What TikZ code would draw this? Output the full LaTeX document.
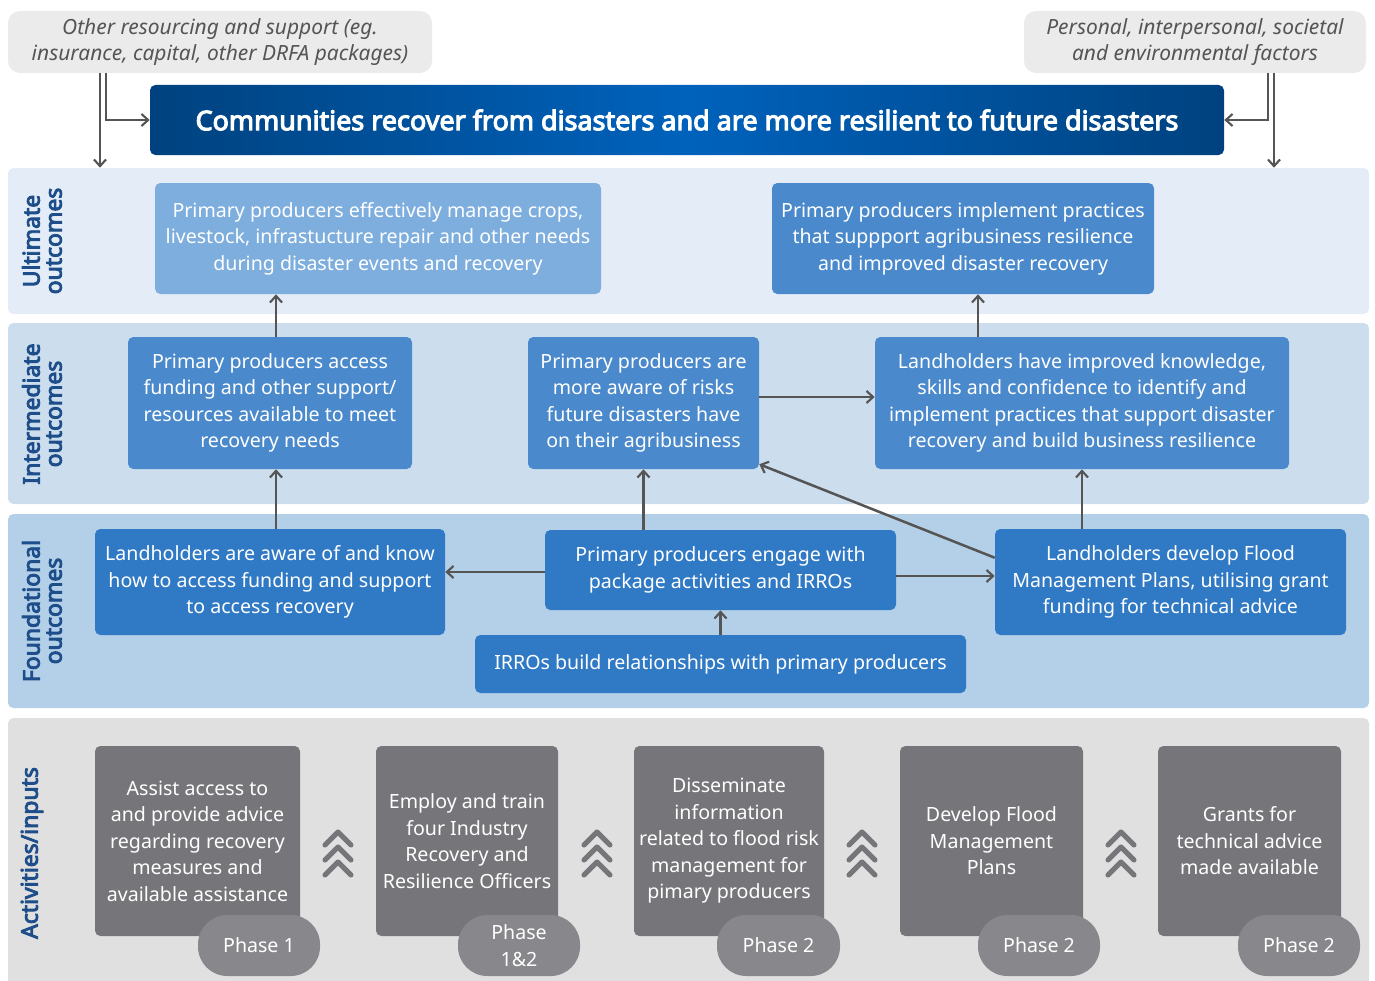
\documentclass[tikz,border=0pt]{standalone}
\usepackage{fontspec}
\setmainfont{Noto Sans}
\newfontfamily\nsbold{Noto Sans}[FakeBold=4]
\usetikzlibrary{arrows.meta,calc}
\definecolor{ultband}{HTML}{E4ECF7}
\definecolor{intband}{HTML}{CCDDEE}
\definecolor{fndband}{HTML}{B4CFE8}
\definecolor{actband}{HTML}{E0E0E0}
\definecolor{ulight}{HTML}{7DAEDE}
\definecolor{mblue}{HTML}{4A89CB}
\definecolor{dblue}{HTML}{2F79C5}
\definecolor{agray}{HTML}{76767A}
\definecolor{ovgray}{HTML}{88888C}
\definecolor{lbl}{HTML}{1D4E89}
\definecolor{arrgray}{HTML}{555555}
\definecolor{topgray}{HTML}{EBEBEB}
\definecolor{titdark}{HTML}{00427F}
\definecolor{titmid}{HTML}{0062BC}
\newcommand{\pbox}[7]{\node[#6, minimum width={(#4-#2)*0.75pt}, minimum height={(#5-#3)*0.75pt}, anchor=center] (#1) at ({(#2+#4)/2},{(#3+#5)/2}) {#7};}
\tikzset{
  box/.style={rounded corners=4pt, inner sep=0pt, align=center, text=white, font=\fontsize{14.7}{19.9}\selectfont},
  band/.style={rounded corners=4pt, inner sep=0pt},
  topbox/.style={rounded corners=9pt, fill=topgray, inner sep=0pt, align=center, text=arrgray, font=\fontsize{15.7}{19.6}\selectfont\itshape},
  bandlabel/.style={rotate=90, align=center, text=lbl, font=\fontsize{17.2}{16.5}\selectfont\nsbold},
  oval/.style={rounded corners=22pt, fill=ovgray, inner sep=0pt, align=center, text=white, font=\fontsize{14.7}{19.9}\selectfont},
  arr/.style={draw=arrgray, line width=1.9pt, -{Straight Barb[length=5pt,width=9pt,line width=1.6pt]}},
  chev/.style={draw=agray, line width=3.8pt, line cap=round, line join=round}
}
\begin{document}
\begin{tikzpicture}[x=0.75pt,y=-0.75pt]
\useasboundingbox (0,0) rectangle (1375,981);
% top boxes
\pbox{GL}{8}{11}{432}{73}{topbox}{Other resourcing and support (eg.\\insurance, capital, other DRFA packages)}
\pbox{GR}{1024}{11}{1366}{73}{topbox}{Personal, interpersonal, societal\\and environmental factors}
% title
\pbox{T}{150}{85}{1224}{155}{rounded corners=4pt, left color=titdark, right color=titdark, middle color=titmid, inner sep=0pt, text=white, font=\fontsize{20.2}{22}\selectfont\nsbold}{Communities recover from disasters and are more resilient to future disasters}
% bands
\pbox{Ult}{8}{168}{1369}{314}{band, fill=ultband}{}
\pbox{Int}{8}{323}{1369}{504}{band, fill=intband}{}
\pbox{Fnd}{8}{514}{1369}{708}{band, fill=fndband}{}
\pbox{Act}{8}{718}{1369}{995}{band, fill=actband}{}
\node[bandlabel] (LU) at (42,241) {Ultimate\\outcomes};
\node[bandlabel] (LI) at (42,414) {Intermediate\\outcomes};
\node[bandlabel] (LF) at (42,611) {Foundational\\outcomes};
\node[bandlabel] (LA) at (32,853) {Activities/inputs};
% ultimate
\pbox{U1}{155}{183}{601}{294}{box, fill=ulight}{Primary producers effectively manage crops,\\livestock, infrastucture repair and other needs\\during disaster events and recovery}
\pbox{U2}{772}{183}{1154}{294}{box, fill=mblue}{Primary producers implement practices\\that suppport agribusiness resilience\\and improved disaster recovery}
% intermediate
\pbox{I1}{128}{337}{412}{469}{box, fill=mblue}{Primary producers access\\funding and other support/\\resources available to meet\\recovery needs}
\pbox{I2}{528}{337}{759}{469}{box, fill=mblue}{Primary producers are\\more aware of risks\\future disasters have\\on their agribusiness}
\pbox{I3}{875}{337}{1289}{469}{box, fill=mblue}{Landholders have improved knowledge,\\skills and confidence to identify and\\implement practices that support disaster\\recovery and build business resilience}
% foundational
\pbox{F1}{95}{529}{445}{635}{box, fill=dblue}{Landholders are aware of and know\\how to access funding and support\\to access recovery}
\pbox{F2}{545}{530}{896}{610}{box, fill=dblue}{Primary producers engage with\\package activities and IRROs}
\pbox{F3}{995}{529}{1346}{635}{box, fill=dblue}{Landholders develop Flood\\Management Plans, utilising grant\\funding for technical advice}
\pbox{F4}{475}{635}{966}{693}{box, fill=dblue}{IRROs build relationships with primary producers}
% activities
\pbox{A1}{95}{746}{300}{936}{box, fill=agray}{Assist access to\\and provide advice\\regarding recovery\\measures and\\available assistance}
\pbox{A2}{376}{746}{558}{936}{box, fill=agray}{Employ and train\\four Industry\\Recovery and\\Resilience Officers}
\pbox{A3}{634}{746}{824}{936}{box, fill=agray}{Disseminate\\information\\related to flood risk\\management for\\pimary producers}
\pbox{A4}{900}{746}{1083}{936}{box, fill=agray}{Develop Flood\\Management\\Plans}
\pbox{A5}{1158}{746}{1341}{936}{box, fill=agray}{Grants for\\technical advice\\made available}
\pbox{P1}{198}{915}{320}{976}{oval}{Phase 1}
\pbox{P2}{458}{915}{580}{976}{oval}{Phase\\1\&2}
\pbox{P3}{717}{915}{840}{976}{oval}{Phase 2}
\pbox{P4}{978}{915}{1100}{976}{oval}{Phase 2}
\pbox{P5}{1238}{915}{1360}{976}{oval}{Phase 2}
% chevrons
\foreach \cx in {338,597,862,1121}{
  \foreach \py in {832,847,862}{
    \draw[chev] (\cx-13,\py+13) -- (\cx,\py) -- (\cx+13,\py+13);
  }
}
% top arrows
\coordinate (gla) at (100,73);
\coordinate (glb) at (106,73);
\coordinate (grb) at (1268,73);
\coordinate (gra) at (1274,73);
\draw[arr] (gla) -- (gla |- Ult.north);
\draw[arr] (glb) |- (T.west);
\draw[arr] (grb) |- (T.east);
\draw[arr] (gra) -- (gra |- Ult.north);
% connector start points
\coordinate (i1n) at ($(I1.north)+(6,0)$);
\coordinate (i3n) at ($(I3.north)+(-104,0)$);
\coordinate (f1n) at ($(F1.north)+(6,0)$);
\coordinate (i2e) at ($(I2.east)+(0,-6)$);
\coordinate (f2w) at ($(F2.west)+(0,2)$);
\coordinate (f2e) at ($(F2.east)+(0,6)$);
\coordinate (f3w) at ($(F3.north west)+(0,29)$);
\coordinate (i2se) at ($(I2.south east)+(0,-5)$);
% outcome arrows
\draw[arr] (i1n) -- (i1n |- U1.south);
\draw[arr] (i3n) -- (i3n |- U2.south);
\draw[arr] (f1n) -- (f1n |- I1.south);
\draw[arr] (F2.north -| I2.south) -- (I2.south);
\draw[arr] (F3.north -| I3.south) -- (I3.south);
\draw[arr] (i2e) -- (i2e -| I3.west);
\draw[arr] (f2w) -- (f2w -| F1.east);
\draw[arr] (f2e) -- (f2e -| F3.west);
\draw[arr] (f3w) -- (i2se);
\draw[arr] (F4.north -| F2.south) -- (F2.south);
\end{tikzpicture}
\end{document}
